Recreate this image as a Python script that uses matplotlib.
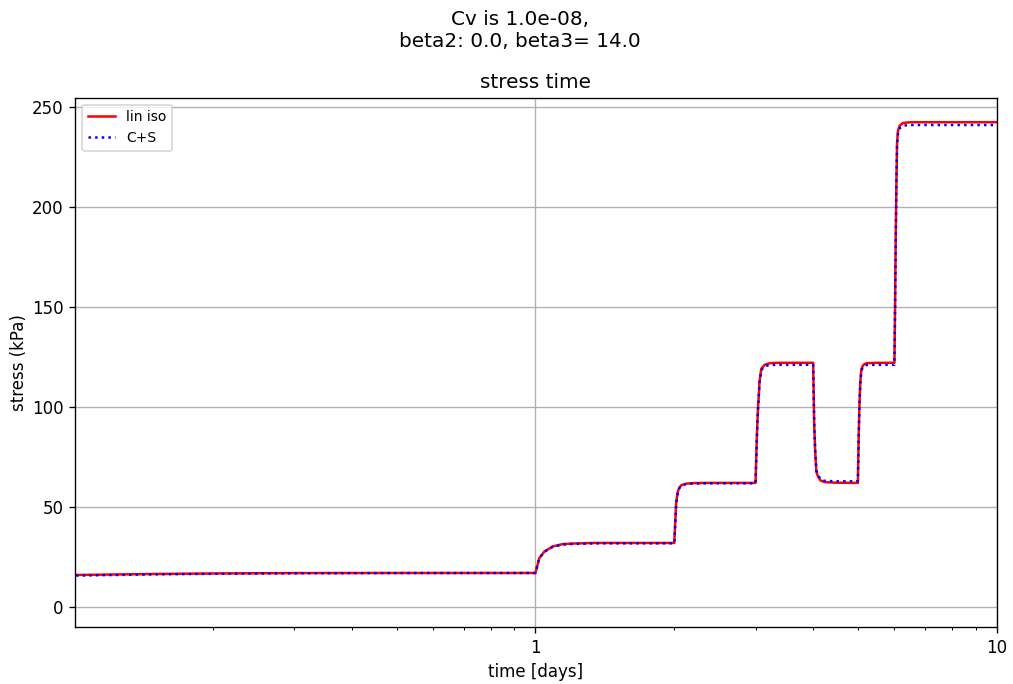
# -*- coding: utf-8 -*-
import matplotlib
matplotlib.use("Agg")
import matplotlib.pyplot as plt
from matplotlib.ticker import FormatStrFormatter, NullFormatter


TITLE = "Cv is 1.0e-08,\nbeta2: 0.0, beta3= 14.0"

# time in days
TIME = [
    0.101, 0.15, 0.2, 0.3, 0.5, 1.0,
    1.02, 1.046, 1.089, 1.144, 1.203, 1.35, 2.0,
    2.019, 2.035, 2.05, 2.07, 2.12, 2.2, 2.35, 3.0,
    3.02, 3.035, 3.05, 3.06, 3.087, 3.139, 3.218, 3.35, 4.0,
    4.02, 4.04, 4.064, 4.097, 4.152, 4.236, 4.49, 5.0,
    5.02, 5.035, 5.05, 5.065, 5.09, 5.14, 5.22, 5.48, 6.0,
    6.02, 6.04, 6.06, 6.08, 6.11, 6.16, 6.26, 6.48, 10.0,
]

# stress (kPa), linear isotropic
STRESS_LIN = [
    16.0, 16.5, 16.75, 16.95, 17.0, 17.0,
    24.5, 27.7, 30.2, 31.4, 31.7, 32.0, 32.0,
    52.0, 57.5, 59.5, 60.8, 61.6, 61.9, 62.0, 62.0,
    85.0, 98.0, 106.0, 112.5, 119.0, 121.0, 121.8, 122.0, 122.0,
    92.0, 78.0, 67.7, 65.2, 63.2, 62.4, 62.1, 62.0,
    85.0, 98.0, 107.0, 113.5, 119.0, 121.0, 121.8, 122.0, 122.0,
    150.0, 185.0, 212.0, 232.0, 238.0, 240.5, 241.8, 242.2, 242.2,
]

# stress (kPa), C+S
STRESS_CS = [
    15.7, 16.3, 16.6, 16.85, 16.95, 17.0,
    24.4, 27.6, 30.0, 31.2, 31.5, 31.8, 31.8,
    51.8, 57.3, 59.3, 60.6, 61.4, 61.7, 61.8, 61.8,
    84.8, 97.7, 105.6, 112.0, 118.3, 120.3, 120.9, 121.0, 121.0,
    92.0, 78.3, 68.2, 65.8, 63.8, 63.0, 62.8, 62.8,
    84.8, 97.6, 106.5, 112.8, 118.2, 120.2, 120.9, 121.0, 121.0,
    149.5, 184.0, 211.0, 230.8, 236.8, 239.2, 240.5, 240.8, 240.8,
]


def main():
    fig = plt.figure(figsize=(8.45, 5.7), dpi=120)
    ax = fig.add_axes([0.074, 0.0833, 0.909, 0.774])

    ax.plot(TIME, STRESS_LIN, "r-", label="lin iso")
    ax.plot(TIME, STRESS_CS, "b:", label="C+S")

    ax.set_xscale("log")
    ax.set_xlim(0.1005, 10)
    ax.set_ylim(-10, 254.5)
    ax.xaxis.set_major_formatter(FormatStrFormatter("%g"))
    ax.xaxis.set_minor_formatter(NullFormatter())
    ax.grid(True)

    ax.set_title("stress time")
    ax.set_xlabel("time [days]")
    ax.set_ylabel("stress (kPa)", labelpad=2)
    ax.legend(loc="upper left", fontsize="small")

    fig.suptitle(TITLE, x=0.513, y=0.985)

    fig.savefig("out.png", dpi=120)
    plt.close(fig)


if __name__ == "__main__":
    main()
